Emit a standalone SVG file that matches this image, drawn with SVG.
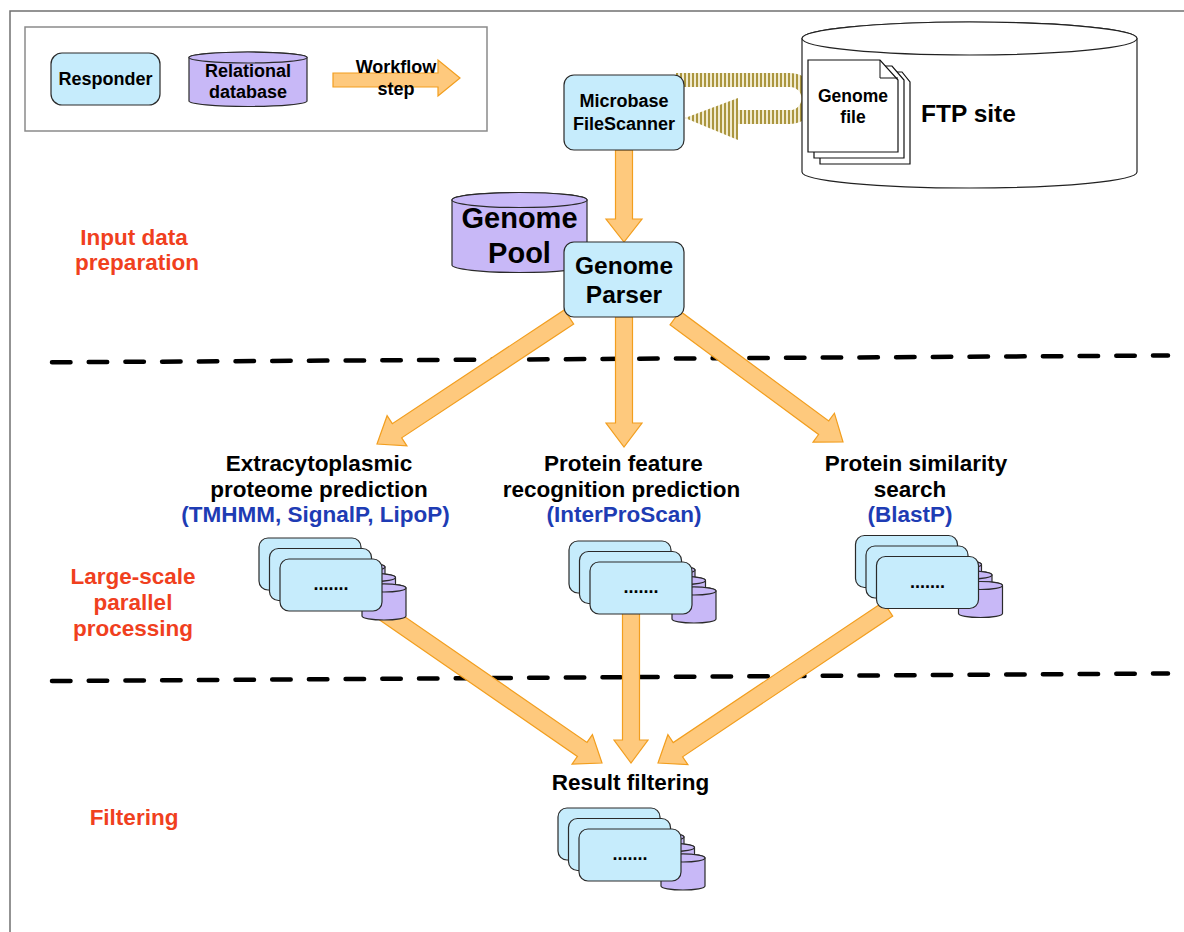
<svg xmlns="http://www.w3.org/2000/svg" width="1184" height="932" viewBox="0 0 1184 932">
  <defs>
    <style>
      .b18 { font-family: "Liberation Sans", Arial, Helvetica, sans-serif; font-weight: bold; font-size: 18px; text-anchor: middle; fill: #000; }
      .b17 { font-family: "Liberation Sans", Arial, Helvetica, sans-serif; font-weight: bold; font-size: 17.5px; text-anchor: middle; fill: #000; }
      .b22 { font-family: "Liberation Sans", Arial, Helvetica, sans-serif; font-weight: bold; font-size: 22.5px; text-anchor: middle; fill: #000; }
      .b24 { font-family: "Liberation Sans", Arial, Helvetica, sans-serif; font-weight: bold; font-size: 24.5px; fill: #000; }
      .b29 { font-family: "Liberation Sans", Arial, Helvetica, sans-serif; font-weight: bold; font-size: 29px; text-anchor: middle; fill: #000; }
      .red { fill: #f0401e; }
      .blue { fill: #1e3cb4; }
      .resp { fill: #c6ecfc; stroke: #2a2a2a; stroke-width: 1.2; }
      .db { fill: #c8b8f7; stroke: #2a2a2a; stroke-width: 1.2; }
      .flow { fill: #fec97d; stroke: #f29e1e; stroke-width: 1.2; stroke-linejoin: miter; }
      .page { fill: #fff; stroke: #111; stroke-width: 1.2; }
      .sep { fill: none; stroke: #000; stroke-width: 4.5; stroke-linecap: round; stroke-dasharray: 18.5 18.2; }
      .dots { font-family: "Liberation Sans", Arial, sans-serif; font-weight: bold; font-size: 18px; text-anchor: middle; fill: #000; }
    </style>
    <pattern id="hatch" patternUnits="userSpaceOnUse" width="4" height="4">
      <rect width="4" height="4" fill="#f1ebcf"/>
      <rect width="2" height="4" fill="#ab963f"/>
    </pattern>
    <!-- one worker unit: a responder card with its database behind the lower right corner -->
    <g id="unit">
      <path class="db" d="M82,29 A22,4 0 0 1 126,29 V57 A22,4 0 0 1 82,57 Z"/>
      <ellipse class="db" cx="104" cy="29" rx="22" ry="4"/>
      <rect class="resp" x="0" y="0" width="102" height="52" rx="9"/>
    </g>
    <g id="stack">
      <use href="#unit"/>
      <use href="#unit" x="10.5" y="10.5"/>
      <use href="#unit" x="21" y="21"/>
      <text class="dots" x="72" y="52">.......</text>
    </g>
  </defs>

  <rect width="1184" height="932" fill="#fff"/>

  <!-- page frame -->
  <path d="M10,932 V11 H1184" fill="none" stroke="#707070" stroke-width="1.5"/>

  <!-- legend -->
  <g id="legend">
    <rect x="25" y="27" width="462" height="104" fill="#fff" stroke="#8a8a8a" stroke-width="1.5"/>
    <rect class="resp" x="51" y="53" width="109" height="52" rx="11"/>
    <text class="b18" x="105.5" y="85">Responder</text>
    <path class="db" d="M189,57.5 A59,5.5 0 0 1 307,57.5 V101 A59,5.5 0 0 1 189,101 Z"/>
    <ellipse class="db" cx="248" cy="57.5" rx="59" ry="5.5"/>
    <text class="b18" x="248" y="77">Relational</text>
    <text class="b18" x="248" y="98">database</text>
    <polygon class="flow" points="333,73 438,73 438,60 460,78 438,96 438,87 333,87"/>
    <text class="b18" x="396" y="73">Workflow</text>
    <text class="b18" x="396" y="95">step</text>
  </g>

  <!-- stage separators -->
  <line class="sep" x1="52" y1="362.3" x2="1168" y2="355.5"/>
  <line class="sep" x1="52" y1="681" x2="1168" y2="673.5"/>

  <!-- stage names -->
  <g id="stage-labels">
    <text class="b22 red" x="134" y="245">Input data</text>
    <text class="b22 red" x="137" y="270">preparation</text>
    <text class="b22 red" x="133" y="584">Large-scale</text>
    <text class="b22 red" x="133" y="610">parallel</text>
    <text class="b22 red" x="133" y="636">processing</text>
    <text class="b22 red" x="134" y="825">Filtering</text>
  </g>

  <g id="connectors">
    <!-- scan loop between the FTP site and the file scanner -->
    <path d="M676,80 H790 A18.5,18.5 0 0 1 790,117 H736" fill="none" stroke="url(#hatch)" stroke-width="14"/>
    <polygon points="738,98 685,118 738,140" fill="url(#hatch)"/>
    <!-- FileScanner -> Genome Parser -->
    <polygon class="flow" points="615.5,150 632.5,150 632.5,219 642,219 624,242 606,219 615.5,219"/>
    <!-- Genome Parser -> three analyses -->
    <polygon class="flow" points="573.7,324.1 401.7,437.8 406.9,445.8 377,444 387.1,415.7 392.3,423.7 564.3,309.9"/>
    <polygon class="flow" points="615.5,317 632.5,317 632.5,423 642,423 624,447 606,423 615.5,423"/>
    <polygon class="flow" points="670,324.8 818.6,434.5 813,442.2 843,442 834.4,413.2 828.7,420.9 680.1,311.2"/>
    <!-- analyses -> Result filtering -->
    <polygon class="flow" points="378.2,619 577.4,756.4 572,764.2 602,763 592.4,734.6 587,742.4 387.8,605"/>
    <polygon class="flow" points="622.5,605 639.5,605 639.5,740 648,740 631,763 614,740 622.5,740"/>
    <polygon class="flow" points="883.3,601.9 673.2,742.6 667.9,734.7 658,763 687.9,764.7 682.6,756.8 892.7,616.1"/>
  </g>

  <g id="ftp-site">
    <path d="M802,38.5 A167.5,16.5 0 0 1 1137,38.5 V172 A167.5,16 0 0 1 802,172 Z" fill="#fff" stroke="#222" stroke-width="1.2"/>
    <ellipse cx="969.5" cy="38.5" rx="167.5" ry="16.5" fill="#fff" stroke="#222" stroke-width="1.2"/>
    <text class="b24" x="921" y="122">FTP site</text>
  </g>

  <g id="genome-file">
    <path class="page" d="M820,72 H902 L910,82 V164 H820 Z"/>
    <path class="page" d="M814,66 H892 L904,80 V158 H814 Z"/>
    <path class="page" d="M808,60 H880 L898,80 V152 H808 Z"/>
    <path d="M880,60 V78 H898" fill="none" stroke="#111" stroke-width="1"/>
    <text class="b17" x="853" y="102">Genome</text>
    <text class="b17" x="853" y="123">file</text>
  </g>

  <g id="file-scanner">
    <rect class="resp" x="564" y="75" width="120" height="75" rx="10"/>
    <text class="b18" x="624" y="107">Microbase</text>
    <text class="b18" x="624" y="130">FileScanner</text>
  </g>

  <g id="genome-pool">
    <path class="db" d="M452,200 A67.5,7.5 0 0 1 587,200 V265 A67.5,7.5 0 0 1 452,265 Z"/>
    <ellipse class="db" cx="519.5" cy="200" rx="67.5" ry="7.5"/>
    <text class="b29" x="519.5" y="228">Genome</text>
    <text class="b29" x="519.5" y="263">Pool</text>
  </g>

  <g id="genome-parser">
    <rect class="resp" x="564" y="242" width="120" height="75" rx="10"/>
    <text class="b18" x="624" y="274" style="font-size:24.5px">Genome</text>
    <text class="b18" x="624" y="303" style="font-size:24.5px">Parser</text>
  </g>

  <g id="extracytoplasmic">
    <text class="b22" x="319" y="471">Extracytoplasmic</text>
    <text class="b22" x="319" y="497">proteome prediction</text>
    <text class="b22 blue" x="315.5" y="522">(TMHMM, SignalP, LipoP)</text>
    <use href="#stack" x="259" y="538"/>
  </g>

  <g id="feature-recognition">
    <text class="b22" x="623.5" y="471">Protein feature</text>
    <text class="b22" x="621.5" y="497">recognition prediction</text>
    <text class="b22 blue" x="624" y="522">(InterProScan)</text>
    <use href="#stack" x="569" y="541"/>
  </g>

  <g id="similarity-search">
    <text class="b22" x="916" y="471">Protein similarity</text>
    <text class="b22" x="910" y="497">search</text>
    <text class="b22 blue" x="910" y="522">(BlastP)</text>
    <use href="#stack" x="855.5" y="535.5"/>
  </g>

  <g id="result-filtering">
    <text class="b22" x="630.5" y="790">Result filtering</text>
    <use href="#stack" x="558" y="808"/>
  </g>
</svg>
